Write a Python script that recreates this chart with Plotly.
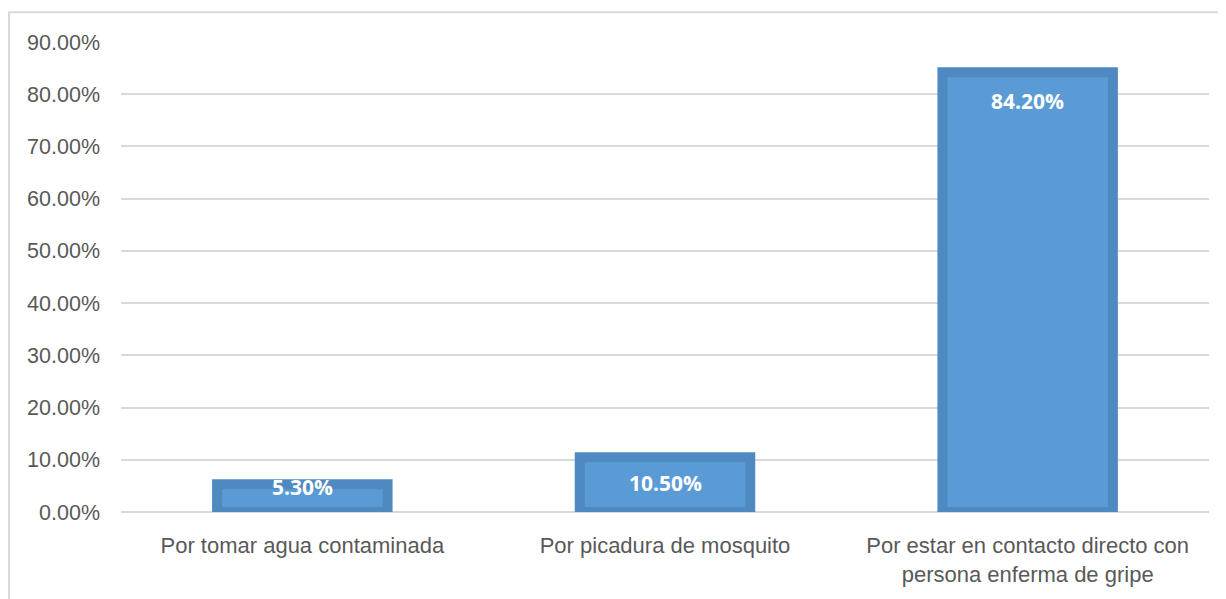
import plotly.graph_objects as go

categories = [
    "Por tomar agua contaminada",
    "Por picadura de mosquito",
    "Por estar en contacto directo con<br>persona enferma de gripe",
]
values = [0.053, 0.105, 0.842]
labels = ["5.30%", "10.50%", "84.20%"]
label_offsets = [-3, -26, -29]  # pixel shift of label centre below bar top

# page body has an 8px margin, so the figure is sized/positioned accordingly
W, H = 1218, 591
ML, MR, MT, MB = 113, 17, 34, 84
pw, ph = W - ML - MR, H - MT - MB

fig = go.Figure()
fig.add_trace(go.Bar(
    x=categories, y=values, width=0.47,
    marker=dict(color="#5b9bd5", line=dict(color="#4f89c2", width=10)),
    hoverinfo="skip",
))

annotations = []
for c, v, t, o in zip(categories, values, labels, label_offsets):
    annotations.append(dict(
        x=c, y=v, xref="x", yref="y", text=t, showarrow=False,
        yanchor="middle", yshift=o,
        font=dict(family="Open Sans", size=21, color="white", weight="bold"),
    ))

def px_x(p):
    return (p - ML) / pw

def px_y(p):
    return (H - MB - p) / ph

fig.update_layout(
    width=W, height=H,
    margin=dict(l=ML, r=MR, t=MT, b=MB),
    paper_bgcolor="white", plot_bgcolor="white",
    showlegend=False,
    annotations=annotations,
    shapes=[dict(type="rect", xref="paper", yref="paper",
                 x0=px_x(1), x1=px_x(1240), y0=px_y(610), y1=px_y(4),
                 line=dict(color="#d9d9d9", width=2), layer="below")],
    xaxis=dict(
        showgrid=False, showline=False, zeroline=False,
        tickfont=dict(family="Liberation Sans", size=22, color="#595959"),
        ticklabelstandoff=18,
    ),
    yaxis=dict(
        range=[0, 0.9], dtick=0.1, tickformat=".2%",
        showgrid=True, gridcolor="#d9d9d9", gridwidth=2,
        zeroline=True, zerolinecolor="#d9d9d9", zerolinewidth=2,
        showline=False,
        tickfont=dict(family="Liberation Sans", size=21.5, color="#595959"),
        ticklabelstandoff=20,
    ),
)

fig.write_html("out.html")
